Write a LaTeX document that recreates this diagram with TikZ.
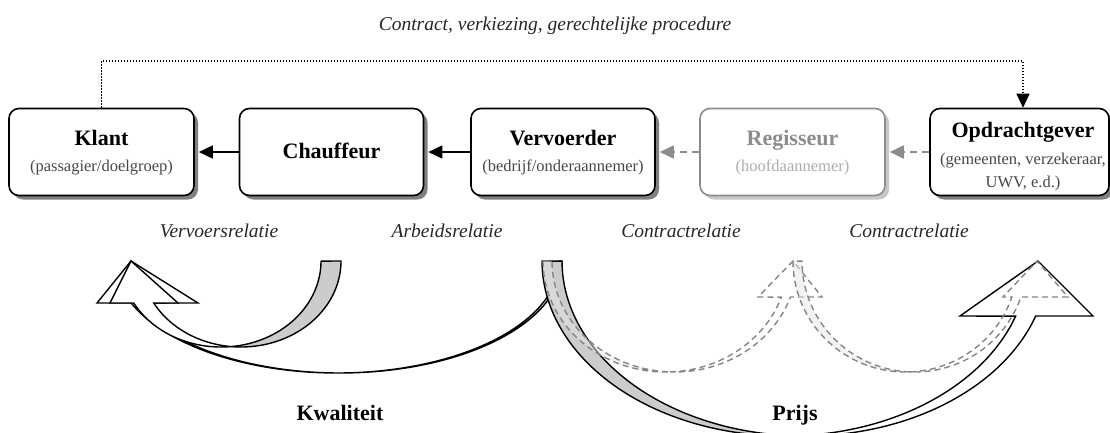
\documentclass[tikz,border=0pt]{standalone}
\usepackage{fontspec}
\setmainfont{Liberation Serif}
\usetikzlibrary{arrows.meta,shadows}
\tikzset{
  box/.style={draw=black, line width=1.6pt, rounded corners=10pt, fill=white, minimum height=87pt, inner sep=0pt,
    drop shadow={shadow xshift=4pt, shadow yshift=-4pt, opacity=1, fill=black!50}},
  gbox/.style={draw=black!45, line width=1.6pt, rounded corners=10pt, fill=white, minimum height=87pt, inner sep=0pt,
    drop shadow={shadow xshift=4pt, shadow yshift=-4pt, opacity=1, fill=black!22}},
  ttl/.style={font=\fontsize{22}{26}\selectfont\bfseries, inner sep=0pt, anchor=base},
  sub/.style={font=\fontsize{16.5}{20}\selectfont, text=black!72, inner sep=0pt, anchor=base},
  rel/.style={font=\fontsize{19.5}{23}\selectfont\itshape, text=black!85, inner sep=0pt},
  solidarrow/.style={line width=1.6pt, -{Triangle[length=14pt,width=13pt]}},
  dasharrow/.style={line width=1.8pt, draw=black!45, dash pattern=on 7pt off 5pt, -{Triangle[length=14pt,width=13pt]}},
  dotarrow/.style={line width=1.3pt, dash pattern=on 1.3pt off 1.7pt, -{Triangle[length=14pt,width=13pt]}},
  solidback/.style={fill=black!20, draw=black, line width=1.4pt, line join=round},
  solidfront/.style={fill=white, draw=black, line width=1.4pt, line join=miter},
  solidline/.style={draw=black, line width=1.4pt},
  dashback/.style={fill=black!10, fill opacity=0.5, draw=black!48, line width=1.4pt, dash pattern=on 6pt off 4pt},
  dashfront/.style={draw=black!48, line width=1.4pt, dash pattern=on 6pt off 4pt},
}
% #1 scope options, #2 rx, #3 ry, #4 band shift, #5 head base depth,
% #6 inner head corner, #7 tip, #8 outer head corner, #9 style prefix
\newcommand{\ribbonarrow}[9]{%
  \pgfmathsetmacro\rbeta{acos(#4/(2*#2))}%
  \pgfmathsetmacro\rtwo{asin(#5/#3)}%
  \begin{scope}[#1]
    \path[#9back] plot[domain=0:1,samples=60] ({#2*cos(180+(\rbeta-180)*\x)},{#3*sin(180+(\rbeta-180)*\x)})
      -- plot[domain=0:1,samples=60] ({#4+#2*cos(180-\rbeta+\rbeta*\x)},{#3*sin(180-\rbeta+\rbeta*\x)}) -- cycle;
    \path[#9front] plot[domain=0:1,samples=60] ({#2*cos(\rbeta+(\rtwo-\rbeta)*\x)},{#3*sin(\rbeta+(\rtwo-\rbeta)*\x)})
      -- (#6,#5) -- (#7,0) -- (#8,#5)
      -- plot[domain=0:1,samples=80] ({#4+#2*cos(\rtwo+(180-\rbeta-\rtwo)*\x)},{#3*sin(\rtwo+(180-\rbeta-\rtwo)*\x)}) -- cycle;
  \end{scope}}

\begin{document}
\begin{tikzpicture}[x=1pt,y=-1pt]
\useasboundingbox (0,0) rectangle (1110,432);
\clip (0,0) rectangle (1110,432);

% boxes
\node[box, minimum width=185pt] (kl) at (101.5,152) {};
\node[box, minimum width=184pt] (ch) at (331.5,152) {};
\node[box, minimum width=184pt] (vv) at (563,152) {};
\node[gbox, minimum width=185pt] (rg) at (792.5,152) {};
\node[box, minimum width=179pt] (op) at (1019.5,152) {};

\node[ttl] (klt) at (101.5,145.5) {Klant};
\node[sub] (kls) at (101.5,171.5) {(passagier/doelgroep)};
\node[ttl] (cht) at (331.5,158.5) {Chauffeur};
\node[ttl] (vvt) at (563,145.5) {Vervoerder};
\node[sub] (vvs) at (563,171.5) {(bedrijf/onderaannemer)};
\node[ttl, text=black!45] (rgt) at (792.5,145.5) {Regisseur};
\node[sub, text=black!32] (rgs) at (792.5,171.5) {(hoofdaannemer)};
\node[ttl] (opt) at (1023,137) {Opdrachtgever};
\node[sub] (ops1) at (1023,164) {(gemeenten, verzekeraar,};
\node[sub] (ops2) at (1023,187) {UWV, e.d.)};

% connectors
\draw[solidarrow] (ch.west) -- ([xshift=4pt]kl.east);
\draw[solidarrow] (vv.west) -- ([xshift=4pt]ch.east);
\draw[dasharrow] (rg.west) -- ([xshift=4pt]vv.east);
\draw[dasharrow] (op.west) -- ([xshift=4pt]rg.east);
\coordinate (dtr) at (1023,61);
\draw[dotarrow] (kl.north) |- (dtr) -- (op.north -| dtr);

% labels
\node[rel] (ltop) at (555,26) {Contract, verkiezing, gerechtelijke procedure};
\node[rel] (lv) at (219,231) {Vervoersrelatie};
\node[rel] (la) at (447,231) {Arbeidsrelatie};
\node[rel] (lc1) at (681,231) {Contractrelatie};
\node[rel] (lc2) at (909,231) {Contractrelatie};

% curved ribbon arrows
\ribbonarrow{shift={(340,261)},xscale=-1}{222}{112}{3}{42}{142}{209}{230}{solid}
\ribbonarrow{shift={(241,261)},xscale=-1}{100}{86}{20}{42}{63}{110}{144}{solid}
\draw[solidline] (131,261) -- (110,303);
\ribbonarrow{shift={(785,261)}}{243}{175}{20}{55}{175}{253}{308}{solid}
\ribbonarrow{shift={(665.5,261)}}{122.5}{111}{9}{36}{92.5}{127.5}{156.5}{dash}
\ribbonarrow{shift={(905.5,261)}}{112.5}{111}{9}{36}{97.5}{131.5}{162.5}{dash}

\node[ttl] (kw) at (340,420) {Kwaliteit};
\node[ttl] (pr) at (795,420) {Prijs};
\end{tikzpicture}
\end{document}
